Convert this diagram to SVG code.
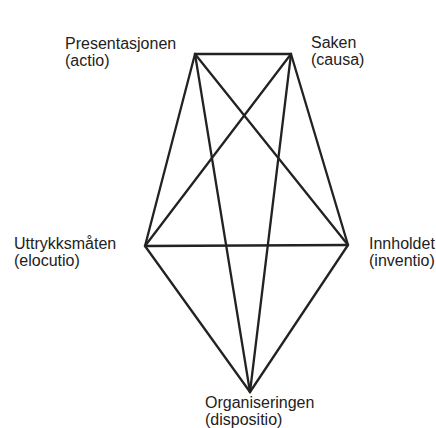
<svg xmlns="http://www.w3.org/2000/svg" width="436" height="428" viewBox="0 0 436 428">
<style>
text{font-family:"Liberation Sans",Arial,sans-serif;font-size:16px;fill:#222}
.e{stroke:#222;stroke-width:2.3;fill:none;stroke-linecap:round}
</style>
<rect width="436" height="428" fill="#fff"/>
<g id="connectors">
<line class="e" x1="195" y1="54" x2="291" y2="54"/>
<line class="e" x1="195" y1="54" x2="145" y2="246"/>
<line class="e" x1="195" y1="54" x2="348" y2="245"/>
<line class="e" x1="195" y1="54" x2="250" y2="392"/>
<line class="e" x1="291" y1="54" x2="145" y2="246"/>
<line class="e" x1="291" y1="54" x2="348" y2="245"/>
<line class="e" x1="291" y1="54" x2="250" y2="392"/>
<line class="e" x1="145" y1="246" x2="348" y2="245"/>
<line class="e" x1="145" y1="246" x2="250" y2="392"/>
<line class="e" x1="348" y1="245" x2="250" y2="392"/>
</g>
<g id="actio"><text x="65" y="49">Presentasjonen</text><text x="65" y="66">(actio)</text></g>
<g id="causa"><text x="311" y="48">Saken</text><text x="311" y="65">(causa)</text></g>
<g id="elocutio"><text x="14" y="249">Uttrykksmåten</text><text x="14" y="266">(elocutio)</text></g>
<g id="inventio"><text x="369" y="249">Innholdet</text><text x="369" y="266">(inventio)</text></g>
<g id="dispositio"><text x="205" y="408">Organiseringen</text><text x="205" y="425">(dispositio)</text></g>
</svg>
